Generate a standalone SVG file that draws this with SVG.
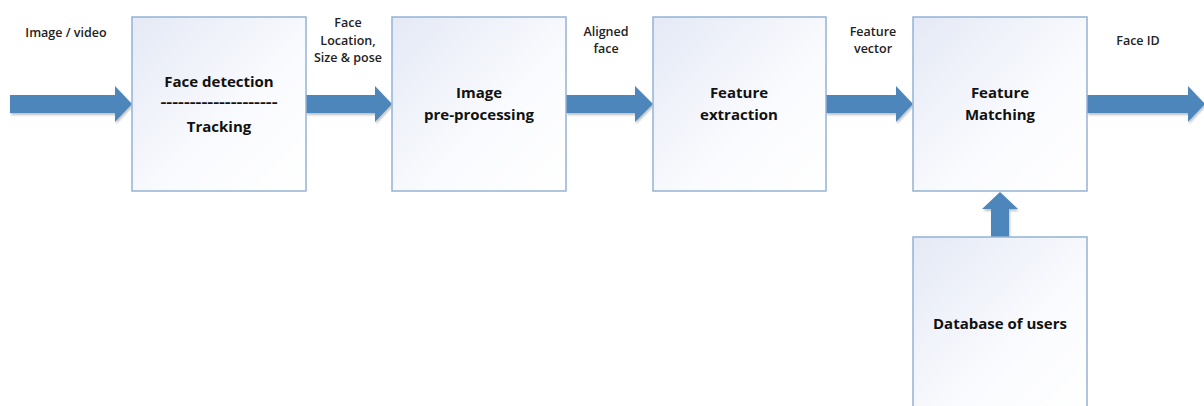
<svg xmlns="http://www.w3.org/2000/svg" width="1204" height="406" viewBox="0 0 1204 406">
<defs>
<linearGradient id="bg" x1="0" y1="0" x2="1" y2="1">
<stop offset="0" stop-color="#e4e9f5"/>
<stop offset="0.6" stop-color="#fafbfe"/>
<stop offset="1" stop-color="#ffffff"/>
</linearGradient>
<filter id="sh" x="-5%" y="-5%" width="115%" height="115%">
<feGaussianBlur in="SourceAlpha" stdDeviation="1.2"/>
<feOffset dx="1" dy="1.5"/>
<feComponentTransfer><feFuncA type="linear" slope="0.25"/></feComponentTransfer>
<feMerge><feMergeNode/><feMergeNode in="SourceGraphic"/></feMerge>
</filter>
</defs>
<style>
.box{fill:url(#bg);stroke:#94b3d6;stroke-width:1.5}
.arr{fill:#4d86bb;filter:url(#sh)}
.t{font-family:"Open Sans","Liberation Sans",sans-serif;font-weight:bold;font-size:15px;fill:#111;text-anchor:middle}
.l{font-family:"Open Sans","Liberation Sans",sans-serif;font-weight:600;font-size:12.5px;fill:#222;text-anchor:middle}
</style>
<rect width="1204" height="406" fill="#fff"/>
<g id="connectors">
<polygon class="arr" points="10,95 115,95 115,86 132,104 115,122 115,113 10,113"/>
<polygon class="arr" points="306,95 375,95 375,86 392,104 375,122 375,113 306,113"/>
<polygon class="arr" points="566,95 635,95 635,86 653,104 635,122 635,113 566,113"/>
<polygon class="arr" points="826,95 896,95 896,86 913,104 896,122 896,113 826,113"/>
<polygon class="arr" points="1087,95 1188,95 1188,86 1205,104 1188,122 1188,113 1087,113"/>
<polygon class="arr" points="991,237 991,209 982,209 1000,192 1018,209 1009,209 1009,237"/>
</g>
<g id="face-detection">
<rect class="box" x="132" y="17" width="174" height="174"/>
<text class="t" x="219" y="87">Face detection</text>
<text class="t" x="219" y="107" textLength="117" lengthAdjust="spacingAndGlyphs">--------------------</text>
<text class="t" x="219" y="132">Tracking</text>
</g>
<g id="image-preprocessing">
<rect class="box" x="392" y="17" width="174" height="174"/>
<text class="t" x="479" y="98">Image</text>
<text class="t" x="479" y="120">pre-processing</text>
</g>
<g id="feature-extraction">
<rect class="box" x="653" y="17" width="173" height="174"/>
<text class="t" x="739" y="98">Feature</text>
<text class="t" x="739" y="120">extraction</text>
</g>
<g id="feature-matching">
<rect class="box" x="913" y="17" width="174" height="174"/>
<text class="t" x="1000" y="98">Feature</text>
<text class="t" x="1000" y="120">Matching</text>
</g>
<g id="database">
<rect class="box" x="913" y="237" width="174" height="180"/>
<text class="t" x="1000" y="329">Database of users</text>
</g>
<g id="labels">
<text class="l" x="66" y="37">Image / video</text>
<text class="l" x="348" y="27">Face</text>
<text class="l" x="348" y="45">Location,</text>
<text class="l" x="348" y="62">Size &amp; pose</text>
<text class="l" x="606" y="36">Aligned</text>
<text class="l" x="606" y="53">face</text>
<text class="l" x="873" y="36">Feature</text>
<text class="l" x="873" y="53">vector</text>
<text class="l" x="1138" y="45">Face ID</text>
</g>
</svg>
